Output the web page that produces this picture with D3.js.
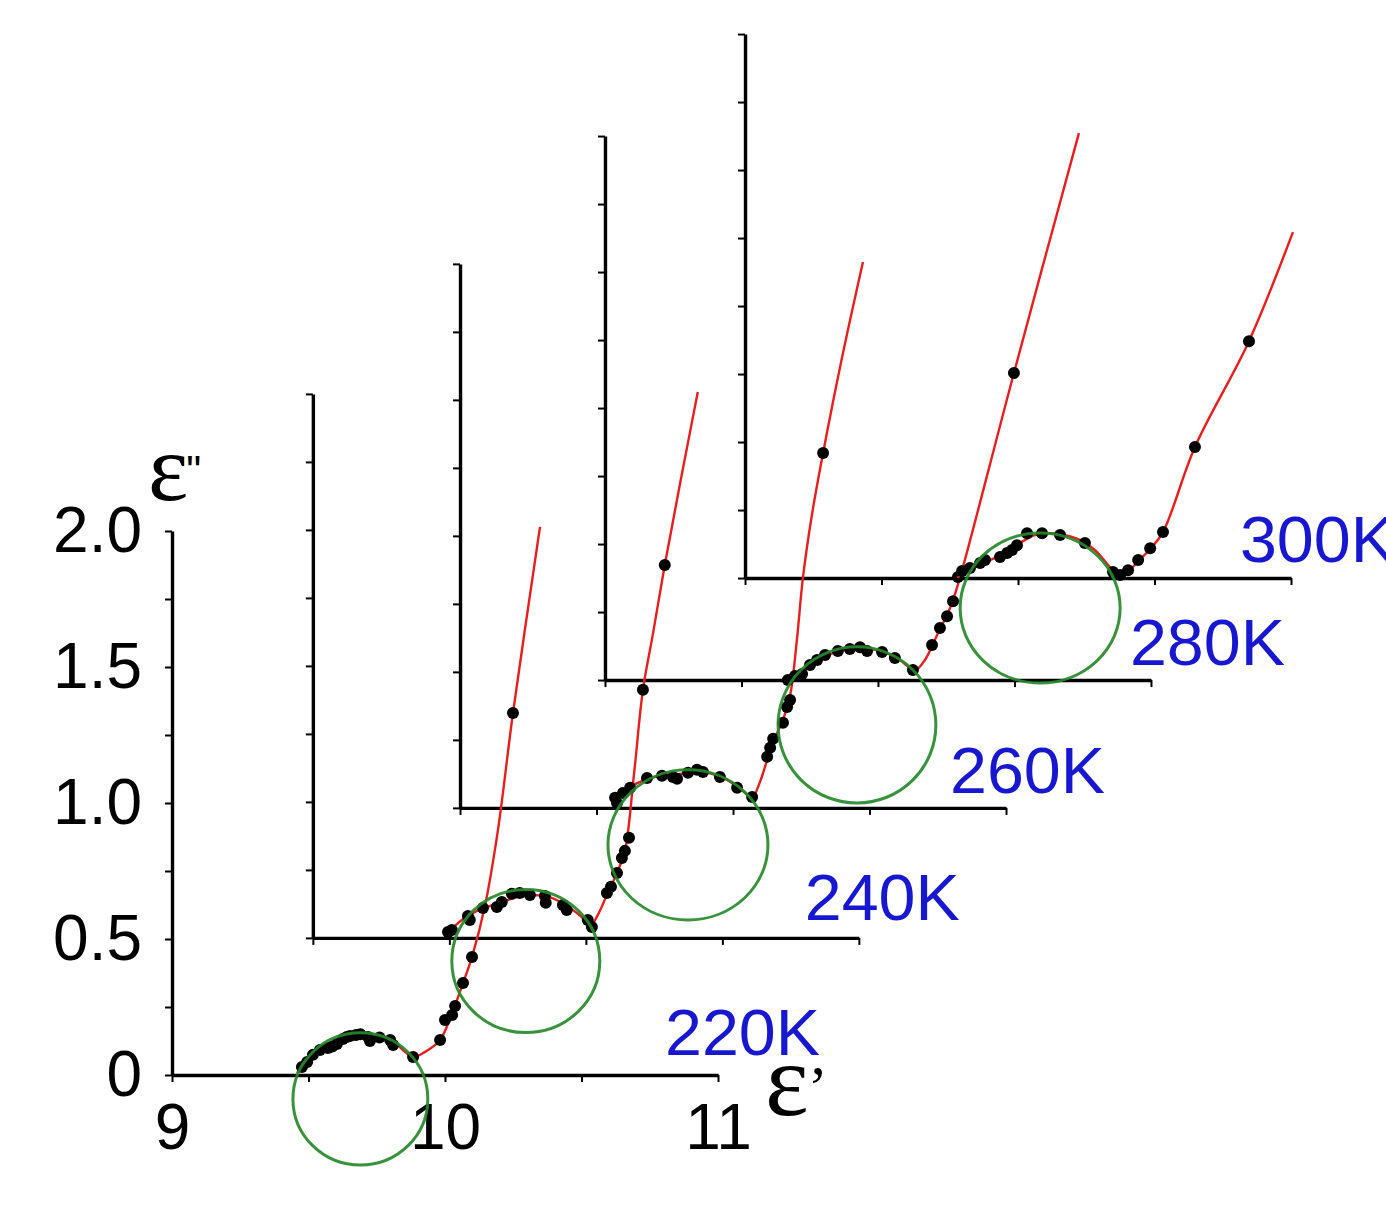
<!DOCTYPE html>
<html><head><meta charset="utf-8">
<script src="https://cdn.jsdelivr.net/npm/d3@7/dist/d3.min.js"></script>
<style>body{margin:0;background:#fff;} svg{display:block;}</style>
</head><body>
<svg id="chart" width="1386" height="1221"></svg>
<script>
// ---------------- data ----------------
const temperatures = ["220K", "240K", "260K", "280K", "300K"];
// offset of each temperature's frame (in ε', ε'' units)
const frameShiftX = [0, 0.516, 1.055, 1.586, 2.099];
const frameShiftY = [0, 0.504, 0.982, 1.452, 1.827];

const xTicks = [9, 9.5, 10, 10.5, 11];
const xTickLabels = ["9", "", "10", "", "11"];
const yTicks = [0, 0.25, 0.5, 0.75, 1, 1.25, 1.5, 1.75, 2];
const yTickLabels = ["0", "", "0.5", "", "1.0", "", "1.5", "", "2.0"];

// measured points [ε', ε''] in each frame
const data220 = [[9.476,0.029],[9.495,0.048],[9.516,0.074],[9.542,0.092],[9.571,0.099],[9.587,0.105],[9.604,0.114],[9.626,0.132],[9.640,0.140],[9.652,0.143],[9.674,0.147],[9.690,0.150],[9.718,0.140],[9.725,0.125],[9.760,0.138],[9.799,0.129],[9.810,0.110],[9.883,0.066],[9.982,0.129],[10.000,0.202],[10.026,0.221],[10.037,0.254],[10.066,0.338],[10.099,0.434],[10.249,1.331]];
const data240 = [[9.495,0.022],[9.509,0.029],[9.568,0.081],[9.575,0.066],[9.623,0.110],[9.674,0.114],[9.692,0.132],[9.729,0.162],[9.758,0.165],[9.795,0.158],[9.850,0.154],[9.853,0.129],[9.916,0.121],[9.930,0.103],[10.007,0.066],[10.022,0.040],[10.077,0.165],[10.092,0.188],[10.114,0.239],[10.132,0.294],[10.143,0.320],[10.158,0.368],[10.209,0.912],[10.289,1.371]];
const data260 = [[9.568,0.037],[9.575,0.018],[9.597,0.055],[9.623,0.074],[9.685,0.110],[9.740,0.118],[9.780,0.114],[9.795,0.107],[9.835,0.129],[9.868,0.140],[9.890,0.132],[9.952,0.114],[10.015,0.074],[10.070,0.040],[10.125,0.188],[10.136,0.221],[10.147,0.254],[10.183,0.313],[10.198,0.371],[10.209,0.397],[10.330,1.305]];
const data280 = [[9.670,0.000],[9.696,0.015],[9.722,0.022],[9.751,0.055],[9.777,0.074],[9.806,0.092],[9.853,0.107],[9.897,0.114],[9.934,0.121],[9.960,0.107],[10.015,0.103],[10.062,0.081],[10.128,0.037],[10.198,0.129],[10.227,0.191],[10.253,0.235],[10.275,0.290],[10.293,0.379],[10.498,1.129]];
const data300 = [[9.795,0.026],[9.824,0.037],[9.861,0.055],[9.879,0.066],[9.934,0.077],[9.960,0.092],[9.978,0.103],[9.996,0.121],[10.033,0.165],[10.088,0.165],[10.154,0.158],[10.245,0.129],[10.348,0.022],[10.374,0.011],[10.403,0.029],[10.440,0.066],[10.484,0.110],[10.531,0.169],[10.648,0.482],[10.846,0.871]];

// fitted curves (red)
const fit220 = [[9.458,0.007],[9.487,0.048],[9.535,0.088],[9.597,0.114],[9.652,0.140],[9.707,0.143],[9.762,0.136],[9.817,0.118],[9.853,0.085],[9.886,0.066],[9.927,0.085],[9.982,0.129],[10.026,0.228],[10.066,0.338],[10.099,0.434],[10.147,0.625],[10.194,0.901],[10.249,1.331],[10.348,2.015]];
const fit240 = [[9.487,0.004],[9.509,0.033],[9.560,0.077],[9.619,0.107],[9.685,0.129],[9.751,0.151],[9.813,0.158],[9.875,0.147],[9.930,0.118],[9.985,0.077],[10.018,0.048],[10.044,0.085],[10.077,0.158],[10.114,0.239],[10.143,0.320],[10.176,0.599],[10.209,0.912],[10.245,1.114],[10.289,1.371],[10.344,1.665],[10.410,2.007]];
const fit260 = [[9.560,0.007],[9.579,0.040],[9.623,0.077],[9.678,0.103],[9.733,0.118],[9.806,0.125],[9.868,0.136],[9.923,0.125],[9.978,0.103],[10.026,0.070],[10.070,0.040],[10.099,0.096],[10.125,0.176],[10.154,0.257],[10.183,0.324],[10.209,0.412],[10.234,0.618],[10.256,0.846],[10.289,1.077],[10.330,1.305],[10.399,1.654],[10.476,2.007]];
const fit280 = [[9.663,-0.007],[9.696,0.015],[9.751,0.051],[9.817,0.092],[9.890,0.114],[9.941,0.118],[10.007,0.107],[10.070,0.081],[10.136,0.037],[10.172,0.074],[10.198,0.125],[10.227,0.188],[10.253,0.239],[10.275,0.294],[10.308,0.404],[10.498,1.129],[10.736,2.011]];
const fit300 = [[9.780,0.000],[9.795,0.026],[9.842,0.048],[9.897,0.066],[9.952,0.092],[10.007,0.129],[10.062,0.158],[10.117,0.165],[10.172,0.158],[10.227,0.140],[10.282,0.103],[10.330,0.048],[10.366,0.011],[10.396,0.018],[10.440,0.062],[10.484,0.107],[10.531,0.169],[10.648,0.482],[10.846,0.871],[11.007,1.272]];

// fitted Cole-Cole circles (green): centre and semi-axes
const circleCx = [9.690, 9.780, 9.835, 9.923, 10.081];
const circleCy = [-0.088, -0.085, -0.136, -0.165, -0.110];
const circleRx = [0.247, 0.271, 0.293, 0.289, 0.293];
const circleRy = [0.243, 0.263, 0.276, 0.287, 0.276];

const pointSets = [data220, data240, data260, data280, data300];
const fitSets = [fit220, fit240, fit260, fit280, fit300];

// ---------------- layout ----------------
const labelAtX = [10.806, 10.802, 10.795, 10.923, 10.813];
const labelAtY = [0.074, 0.066, 0.055, 0.055, 0.059];

const svg = d3.select("#chart");
const x = d3.scaleLinear().domain([9, 11]).range([172, 718]);
const y = d3.scaleLinear().domain([0, 2]).range([1075, 531]);

const BLUE = "#1717cf", GREEN = "#27882a", RED = "#e61e1e";
const SANS = "'Liberation Sans', Arial, sans-serif";
const SERIF = "'Liberation Serif', 'Times New Roman', serif";

const frames = temperatures.map((t, i) => ({
  t, i,
  tx: x(9 + frameShiftX[i]) - x(9),
  ty: y(frameShiftY[i]) - y(0)
}));

// axes (drawn first, all frames)
const axesLayer = svg.append("g");
frames.forEach(f => {
  const g = axesLayer.append("g").attr("transform", `translate(${f.tx},${f.ty})`);
  const main = f.i === 0;
  const ax = d3.axisBottom(x).tickValues(xTicks).tickSize(7).tickSizeOuter(0).tickPadding(22)
    .tickFormat((d, k) => main ? xTickLabels[k] : "");
  const ay = d3.axisLeft(y).tickValues(yTicks).tickSize(7).tickSizeOuter(0).tickPadding(23)
    .tickFormat((d, k) => main ? yTickLabels[k] : "");
  const gx = g.append("g").attr("transform", `translate(0,${y(0)})`).call(ax);
  const gy = g.append("g").attr("transform", `translate(${x(9)},0)`).call(ay);
  [gx, gy].forEach(a => {
    a.select(".domain").attr("stroke", "#000").attr("stroke-width", 3.4);
    a.selectAll(".tick line").attr("stroke", "#000").attr("stroke-width", 2);
    a.selectAll(".tick text").attr("font-family", SANS).attr("font-size", 64).attr("fill", "#000");
  });
});

// axis titles
const tY = svg.append("text").attr("x", x(9) - 24).attr("y", y(2) - 31)
  .attr("font-family", SERIF).attr("font-size", 96).attr("fill", "#000");
tY.append("tspan").text("ε");
tY.append("tspan").attr("font-family", SANS).attr("font-size", 42).attr("dx", -2).attr("dy", -15).text("\"");
const tX = svg.append("text").attr("x", x(11) + 47).attr("y", y(0) + 40)
  .attr("font-family", SERIF).attr("font-size", 104).attr("fill", "#000");
tX.append("tspan").text("ε");
tX.append("tspan").attr("font-family", SERIF).attr("font-size", 60).attr("dx", -1).attr("dy", -8).text("’");

// data layers
const line = d3.line().x(d => x(d[0])).y(d => y(d[1])).curve(d3.curveCatmullRom.alpha(0.5));
frames.forEach(f => {
  const g = svg.append("g").attr("transform", `translate(${f.tx},${f.ty})`);
  g.append("path").datum(fitSets[f.i]).attr("d", line)
    .attr("fill", "none").attr("stroke", RED).attr("stroke-width", 2.4);
  g.selectAll("circle.pt").data(pointSets[f.i]).join("circle").attr("class", "pt")
    .attr("cx", d => x(d[0])).attr("cy", d => y(d[1])).attr("r", 6).attr("fill", "#000");
  g.append("ellipse")
    .attr("cx", x(circleCx[f.i])).attr("cy", y(circleCy[f.i]))
    .attr("rx", x(circleCx[f.i] + circleRx[f.i]) - x(circleCx[f.i]))
    .attr("ry", y(circleCy[f.i]) - y(circleCy[f.i] + circleRy[f.i]))
    .attr("fill", "none").attr("stroke", GREEN).attr("stroke-width", 3).attr("opacity", 0.92);
  g.append("text").attr("x", x(labelAtX[f.i])).attr("y", y(labelAtY[f.i]))
    .attr("font-family", SANS).attr("font-size", 65).attr("fill", BLUE)
    .attr("textLength", 155).attr("lengthAdjust", "spacingAndGlyphs").text(f.t);
});
</script>
</body></html>
